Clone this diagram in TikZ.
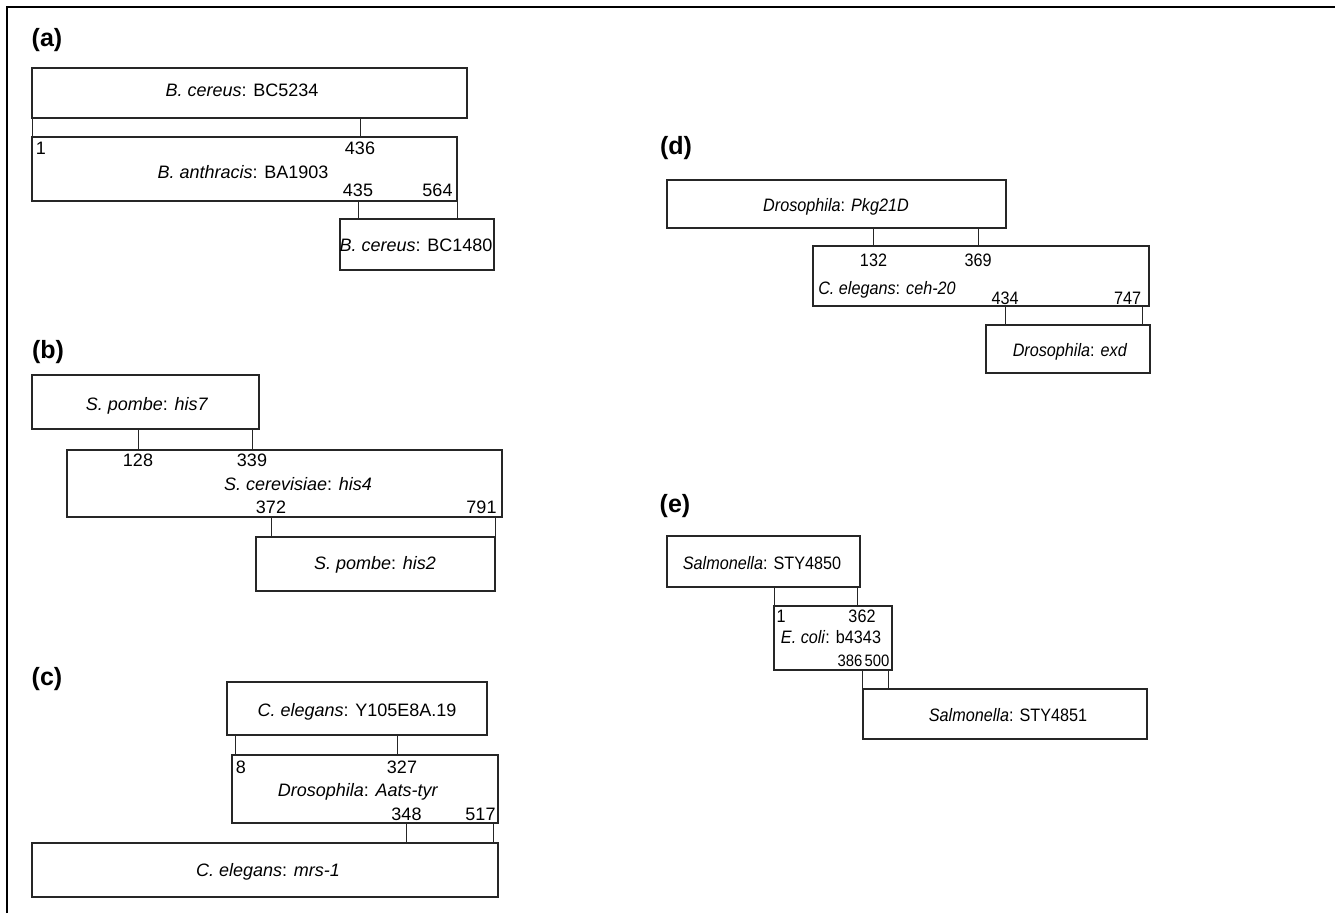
\documentclass[tikz,border=0pt]{standalone}
\usepackage{fontspec}
\setmainfont{Liberation Sans}
\newfontfamily\narrowsans{Liberation Sans}[FakeStretch=0.9]
\usepackage{tikz}

\tikzset{
  gene/.style={draw=black!85,line width=1.2pt,rectangle,inner sep=0pt},
  genename/.style={inner sep=0pt,text height=13pt,text depth=0pt,font=\fontsize{18}{20}\selectfont},
  resnum/.style={genename},
  narrow/.style={font=\narrowsans\fontsize{18}{20}\selectfont},
  tight/.style={font=\narrowsans\fontsize{16.5}{20}\selectfont},
  panel/.style={inner sep=0pt,font=\bfseries\fontsize{25}{30}\selectfont},
  link/.style={draw=black!85,line width=0.9pt}
}

\begin{document}
\begin{tikzpicture}[x=1pt,y=-1pt]
  \useasboundingbox (0,0) rectangle (1335,913);
  \draw[line width=1.2pt] (7,913) -- (7,7) -- (1335,7);

  % (a)
  \node[panel] (tagA) at (47,40) {(a)};
  \node[gene,minimum width=435pt,minimum height=50pt] (boxA1) at (249.5,93) {};
  \node[genename] (txtA1) at (242,90) {\textit{B. cereus}: BC5234};
  \node[gene,minimum width=425pt,minimum height=64pt] (boxA2) at (244.5,169) {};
  \node[resnum] (n1) at (41,148) {1};
  \node[resnum] (n436) at (360,148) {436};
  \node[genename] (txtA2) at (243,171.5) {\textit{B. anthracis}: BA1903};
  \node[resnum] (n435) at (358,190) {435};
  \node[resnum] (n564) at (437.5,190) {564};
  \node[gene,minimum width=154pt,minimum height=51pt] (boxA3) at (417,244.5) {};
  \node[genename] (txtA3) at (416,245) {\textit{B. cereus}: BC1480};
  \draw[link] ([xshift=1.5pt]boxA2.north west) coordinate (cA1) -- (cA1 |- boxA1.south);
  \draw[link] (n436 |- boxA1.south) -- (n436 |- boxA2.north);
  \draw[link] (n435 |- boxA2.south) -- (n435 |- boxA3.north);
  \draw[link] (boxA2.south east) -- (boxA2.south east |- boxA3.north);

  % (b)
  \node[panel] (tagB) at (48,352) {(b)};
  \node[gene,minimum width=227pt,minimum height=54pt] (boxB1) at (145.5,402) {};
  \node[genename] (txtB1) at (147,403.5) {\textit{S. pombe}: \textit{his7}};
  \node[gene,minimum width=435pt,minimum height=67pt] (boxB2) at (284.5,483.5) {};
  \node[resnum] (n128) at (138,460) {128};
  \node[resnum] (n339) at (252,460) {339};
  \node[genename] (txtB2) at (298,484) {\textit{S. cerevisiae}: \textit{his4}};
  \node[resnum] (n372) at (271,507) {372};
  \node[resnum] (n791) at (481.5,507) {791};
  \node[gene,minimum width=239pt,minimum height=54pt] (boxB3) at (375.5,564) {};
  \node[genename] (txtB3) at (375,563) {\textit{S. pombe}: \textit{his2}};
  \draw[link] (n128 |- boxB1.south) -- (n128 |- boxB2.north);
  \draw[link] (n339 |- boxB1.south) -- (n339 |- boxB2.north);
  \draw[link] (n372 |- boxB2.south) -- (n372 |- boxB3.north);
  \draw[link] (boxB3.north east |- boxB2.south) -- (boxB3.north east);

  % (c)
  \node[panel] (tagC) at (47,679) {(c)};
  \node[gene,minimum width=260pt,minimum height=53pt] (boxC1) at (357,708.5) {};
  \node[genename] (txtC1) at (357,709.5) {\textit{C. elegans}: Y105E8A.19};
  \node[gene,minimum width=266pt,minimum height=68pt] (boxC2) at (365,789) {};
  \node[resnum] (n8) at (241,767) {8};
  \node[resnum] (n327) at (402,767) {327};
  \node[genename] (txtC2) at (358,790) {\textit{Drosophila}: \textit{Aats-tyr}};
  \node[resnum] (n348) at (406.5,813.5) {348};
  \node[resnum] (n517) at (480.5,813.5) {517};
  \node[gene,minimum width=466pt,minimum height=54pt] (boxC3) at (265,870) {};
  \node[genename] (txtC3) at (268,870) {\textit{C. elegans}: \textit{mrs-1}};
  \draw[link] ([xshift=4pt]boxC2.north west) coordinate (cC1) -- (cC1 |- boxC1.south);
  \draw[link] ([xshift=-5pt]n327.north) coordinate (cC2) (cC2 |- boxC1.south) -- (cC2 |- boxC2.north);
  \draw[link] (n348 |- boxC2.south) -- (n348 |- boxC3.north);
  \draw[link] ([xshift=-5pt]boxC2.south east) coordinate (cC3) -- (cC3 |- boxC3.north);

  % (d)
  \node[panel] (tagD) at (676,148) {(d)};
  \node[gene,minimum width=339pt,minimum height=48pt] (boxD1) at (836.5,204) {};
  \node[genename,narrow] (txtD1) at (836,205) {\textit{Drosophila}: \textit{Pkg21D}};
  \node[gene,minimum width=336pt,minimum height=60pt] (boxD2) at (981,276) {};
  \node[resnum,narrow] (n132) at (873.5,260) {132};
  \node[resnum,narrow] (n369) at (978,260) {369};
  \node[genename,narrow] (txtD2) at (887,288) {\textit{C. elegans}: \textit{ceh-20}};
  \node[resnum,narrow] (n434) at (1005,297.5) {434};
  \node[resnum,narrow] (n747) at (1127.5,297.5) {747};
  \node[gene,minimum width=164pt,minimum height=48pt] (boxD3) at (1068,349) {};
  \node[genename,narrow] (txtD3) at (1070,350) {\textit{Drosophila}: \textit{exd}};
  \draw[link] (n132 |- boxD1.south) -- (n132 |- boxD2.north);
  \draw[link] (n369 |- boxD1.south) -- (n369 |- boxD2.north);
  \draw[link] (n434 |- boxD2.south) -- (n434 |- boxD3.north);
  \draw[link] ([xshift=-7pt]boxD2.south east) coordinate (cD1) -- (cD1 |- boxD3.north);

  % (e)
  \node[panel] (tagE) at (675,506) {(e)};
  \node[gene,minimum width=193pt,minimum height=51pt] (boxE1) at (763.5,561.5) {};
  \node[genename,narrow] (txtE1) at (762,563) {\textit{Salmonella}: STY4850};
  \node[gene,minimum width=118pt,minimum height=64pt] (boxE2) at (833,638) {};
  \node[resnum,narrow] (n1e) at (781,616) {1};
  \node[resnum,narrow] (n362) at (862,616) {362};
  \node[genename,narrow] (txtE2) at (831,637) {\textit{E. coli}: b4343};
  \node[resnum,tight,anchor=east] (n386) at (862.5,660) {386};
  \node[resnum,tight,anchor=east] (n500) at (889.5,660) {500};
  \node[gene,minimum width=284pt,minimum height=50pt] (boxE3) at (1005,714) {};
  \node[genename,narrow] (txtE3) at (1008,715) {\textit{Salmonella}: STY4851};
  \draw[link] ([xshift=1pt]boxE2.north west) coordinate (cE1) -- (cE1 |- boxE1.south);
  \draw[link] ([xshift=-3pt]boxE1.south east) coordinate (cE2) -- (cE2 |- boxE2.north);
  \draw[link] (boxE3.north west |- boxE2.south) -- (boxE3.north west);
  \draw[link] ([xshift=-4pt]boxE2.south east) coordinate (cE3) -- (cE3 |- boxE3.north);
\end{tikzpicture}
\end{document}
